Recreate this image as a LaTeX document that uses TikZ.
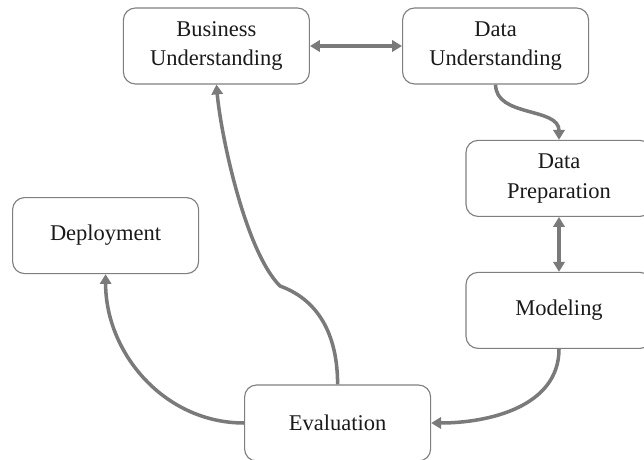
\documentclass[tikz,border=0pt]{standalone}
\usepackage{fontspec}
\setmainfont{Liberation Serif}
\usetikzlibrary{arrows.meta}
\definecolor{boxgray}{HTML}{7F7F7F}
\definecolor{arrowgray}{HTML}{7A7A7A}
\definecolor{textgray}{HTML}{1A1A1A}

\tikzstyle{phase} = [rectangle, rounded corners=0.3cm, minimum width=4.65cm, minimum height=1.9cm, text centered, draw=boxgray, line width=0.8pt, align=center, text=textgray, font=\fontsize{16}{21}\selectfont]
\tikzstyle{arrow} = [line width=2.5pt, draw=arrowgray, ->, >={Triangle[length=7pt,width=8pt]}]
\tikzstyle{twoway} = [line width=2.5pt, draw=arrowgray, <->, >={Triangle[length=7pt,width=8pt]}]

\begin{document}
\begin{tikzpicture}

\useasboundingbox (0,0) rectangle (16.1,-11.5);

\node (business) [phase] at (5.41,-1.15) {Business\\Understanding};

\node (dataund) [phase] at (12.39,-1.15) {Data\\Understanding};

\node (dataprep) [phase] at (13.975,-4.46) {Data\\Preparation};

\node (modeling) [phase] at (13.975,-7.76) {Modeling};

\node (evaluation) [phase] at (8.44,-10.575) {Evaluation};

\node (deployment) [phase] at (2.64,-5.89) {Deployment};

\coordinate (kink) at (7.0,-7.15);

\draw[twoway] (business.east) -- (dataund.west);

\draw[arrow] (dataund.south) to[out=-90, in=90] (dataprep.north);

\draw[twoway] (dataprep.south) -- (modeling.north);

\draw[arrow] (modeling.south) to[out=-90, in=0] (evaluation.east);

\draw[arrow] (evaluation.west) to[out=180, in=-90] (deployment.south);

\draw[arrow] (evaluation.north) to[out=90, in=-20] (kink) to[out=135, in=-85, looseness=0.6] (business.south);

\end{tikzpicture}
\end{document}
